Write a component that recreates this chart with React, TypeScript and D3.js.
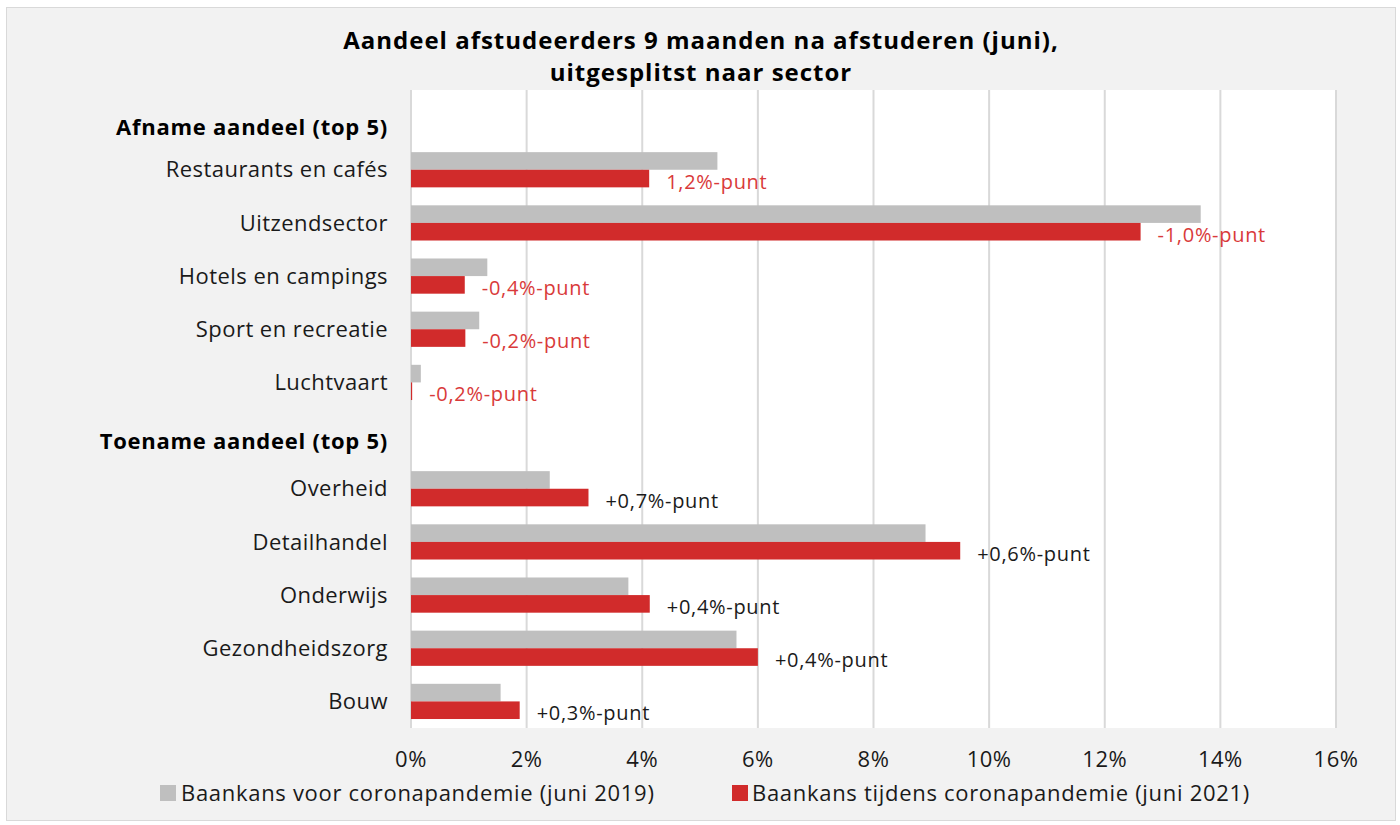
import React from 'react';
import * as d3 from 'd3';

// row order, headers included (headers have no bars)
const rows = [
  'Afname aandeel (top 5)',
  'Restaurants en cafés',
  'Uitzendsector',
  'Hotels en campings',
  'Sport en recreatie',
  'Luchtvaart',
  'Toename aandeel (top 5)',
  'Overheid',
  'Detailhandel',
  'Onderwijs',
  'Gezondheidszorg',
  'Bouw',
];
const headers = ['Afname aandeel (top 5)', 'Toename aandeel (top 5)'];

const sectors = [
  'Restaurants en cafés', 'Uitzendsector', 'Hotels en campings', 'Sport en recreatie', 'Luchtvaart',
  'Overheid', 'Detailhandel', 'Onderwijs', 'Gezondheidszorg', 'Bouw',
];
const before2019 = [5.3, 13.66, 1.32, 1.18, 0.17, 2.4, 8.9, 3.76, 5.63, 1.55];
const during2021 = [4.12, 12.62, 0.93, 0.94, 0.02, 3.07, 9.5, 4.13, 6.0, 1.88];
const diffLabels = [
  '1,2%-punt', '-1,0%-punt', '-0,4%-punt', '-0,2%-punt', '-0,2%-punt',
  '+0,7%-punt', '+0,6%-punt', '+0,4%-punt', '+0,4%-punt', '+0,3%-punt',
];
const decline = [true, true, true, true, true, false, false, false, false, false];
const ticks = [0, 2, 4, 6, 8, 10, 12, 14, 16];

const W = 1400;
const H = 825;
const font = '"Open Sans", "Noto Sans", sans-serif';
const GREY = '#bfbfbf';
const RED = '#d12b2b';
const RED_TEXT = '#d93a3a';

export default function App() {
  const x = d3.scaleLinear().domain([0, 16]).range([411, 1336]);
  const y = d3.scaleBand().domain(rows).range([90, 728]);
  const bw = y.bandwidth();
  const barH = 17.6;

  return (
    <svg width={W} height={H} style={{ position: 'absolute', left: 0, top: 0 }}>
      <rect x={0} y={0} width={W} height={H} fill="#ffffff" />
      <rect x={6.5} y={7.5} width={1389} height={813} fill="#f2f2f2" stroke="#d9d9d9" strokeWidth={1} />
      <rect x={x(0)} y={90} width={x(16) - x(0)} height={638} fill="#ffffff" />

      {ticks.map(t => (
        <line key={t} x1={x(t)} x2={x(t)} y1={90} y2={728} stroke="#d9d9d9" strokeWidth={2} />
      ))}

      <g fontFamily={font} fontWeight={700} fontSize={24} fill="#000" textAnchor="middle" letterSpacing={1}>
        <text x={701} y={49}>Aandeel afstudeerders 9 maanden na afstuderen (juni),</text>
        <text x={701} y={81}>uitgesplitst naar sector</text>
      </g>

      {headers.map((h, i) => (
        <text key={h} x={388} y={(y(h) as number) + bw / 2 + (i === 0 ? 11 : 6)} dy="0.35em" textAnchor="end"
          fontFamily={font} fontWeight={700} fontSize={22} letterSpacing={0.75} fill="#000">
          {h}
        </text>
      ))}

      {sectors.map((s, i) => {
        const c = (y(s) as number) + bw / 2;
        return (
          <g key={s}>
            <text x={388} y={c} dy="0.35em" textAnchor="end" fontFamily={font} fontSize={22} letterSpacing={0.45}
              fill="#1a1a1a">{s}</text>
            <rect x={x(0)} y={c - barH} width={x(before2019[i]) - x(0)} height={barH} fill={GREY} />
            <rect x={x(0)} y={c} width={x(during2021[i]) - x(0)} height={barH} fill={RED} />
            <text x={x(during2021[i]) + 17} y={c + barH / 2 + 3} dy="0.35em" fontFamily={font} fontSize={20}
              letterSpacing={0.7} fill={decline[i] ? RED_TEXT : '#1a1a1a'}>
              {diffLabels[i]}
            </text>
          </g>
        );
      })}

      {ticks.map(t => (
        <text key={t} x={x(t)} y={759} dy="0.35em" textAnchor="middle" fontFamily={font} fontSize={22}
          letterSpacing={0.5} fill="#1a1a1a">
          {t}%
        </text>
      ))}

      <rect x={160} y={785} width={16} height={16} fill={GREY} />
      <text x={181} y={793} dy="0.35em" fontFamily={font} fontSize={22} letterSpacing={0.7} fill="#1a1a1a">
        Baankans voor coronapandemie (juni 2019)
      </text>
      <rect x={732} y={785} width={16} height={16} fill={RED} />
      <text x={752} y={793} dy="0.35em" fontFamily={font} fontSize={22} letterSpacing={0.7} fill="#1a1a1a">
        Baankans tijdens coronapandemie (juni 2021)
      </text>
    </svg>
  );
}
